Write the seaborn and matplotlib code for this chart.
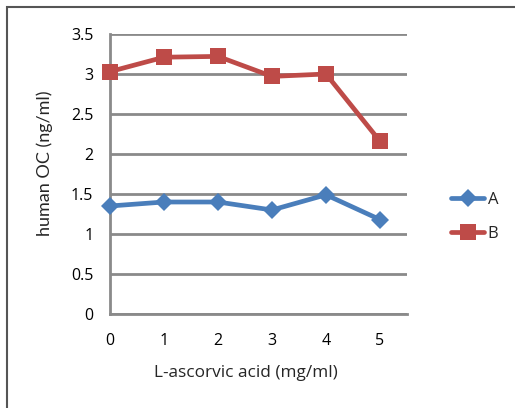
import matplotlib
matplotlib.use("Agg")
import matplotlib.pyplot as plt
import seaborn as sns
import pandas as pd
from matplotlib.lines import Line2D
from matplotlib.patches import Rectangle

x_vals = [0, 1, 2, 3, 4, 5]
series_a = [1.35, 1.40, 1.40, 1.30, 1.49, 1.18]
series_b = [3.03, 3.21, 3.22, 2.97, 3.00, 2.16]
series_names = ["A", "B"]
y_ticks = [0, 0.5, 1, 1.5, 2, 2.5, 3, 3.5]
y_tick_labels = ["0", "0.5", "1", "1.5", "2", "2.5", "3", "3.5"]

df = pd.DataFrame({
    "x": x_vals * 2,
    "y": series_a + series_b,
    "series": [series_names[0]] * len(x_vals) + [series_names[1]] * len(x_vals),
})

sns.set_style("white")
plt.rcParams["font.family"] = ["Open Sans", "DejaVu Sans"]

colors = {"A": "#4A7EBB", "B": "#BE4B48"}
markers = {"A": "D", "B": "s"}
msize = {"A": 9.5, "B": 11}

fig = plt.figure(figsize=(5.15, 4.08), dpi=100)
ax = fig.add_axes([110 / 515, 1 - 314 / 408, 297 / 515, 280 / 408])

sns.lineplot(data=df, x="x", y="y", hue="series", style="series",
             palette=colors, markers=markers, dashes=False, linewidth=3.4,
             markersize=11, markeredgewidth=0, ax=ax, legend=False, zorder=3)
for line in ax.get_lines():
    if line.get_marker() == "D":
        line.set_markersize(msize["A"])
    line.set_clip_on(False)

ax.set_xlim(0, 5.5)
ax.set_ylim(0, 3.5)
ax.set_xticks(x_vals)
ax.set_xticklabels([str(v) for v in x_vals])
ax.set_yticks(y_ticks)
ax.set_yticklabels(y_tick_labels)
ax.grid(axis="y", color="#8a8a8a", linewidth=2)
ax.set_axisbelow(True)
for s in ["top", "right"]:
    ax.spines[s].set_visible(False)
for s in ["left", "bottom"]:
    ax.spines[s].set_color("#8a8a8a")
    ax.spines[s].set_linewidth(2)
ax.tick_params(axis="both", length=0, labelsize=11.5, colors="black")
ax.tick_params(axis="y", pad=12)
ax.tick_params(axis="x", pad=14)
ax.set_xlabel("L-ascorvic acid (mg/ml)", fontsize=12.4)
ax.set_ylabel("human OC (ng/ml)", fontsize=13, family=["Lato", "DejaVu Sans"])
ax.xaxis.set_label_coords(136 / 297, -51 / 280)
ax.yaxis.set_label_coords(-57 / 297, 151 / 280)

handles = [Line2D([], [], color=colors[n], marker=markers[n], linewidth=3.4,
                  markersize=msize[n], markeredgewidth=0)
           for n in series_names]
fig.legend(handles, series_names, loc="center left",
           bbox_to_anchor=(436 / 515, 1 - 217 / 408), frameon=False,
           fontsize=12, handlelength=2.0, handletextpad=0.2, labelspacing=1.05)

fig.patches.append(Rectangle((7 / 515, -0.1), 1.2, 1 - 7 / 408 + 0.1,
                             transform=fig.transFigure, fill=False,
                             edgecolor="#555555", linewidth=1.5))

fig.savefig("out.png", dpi=100)
